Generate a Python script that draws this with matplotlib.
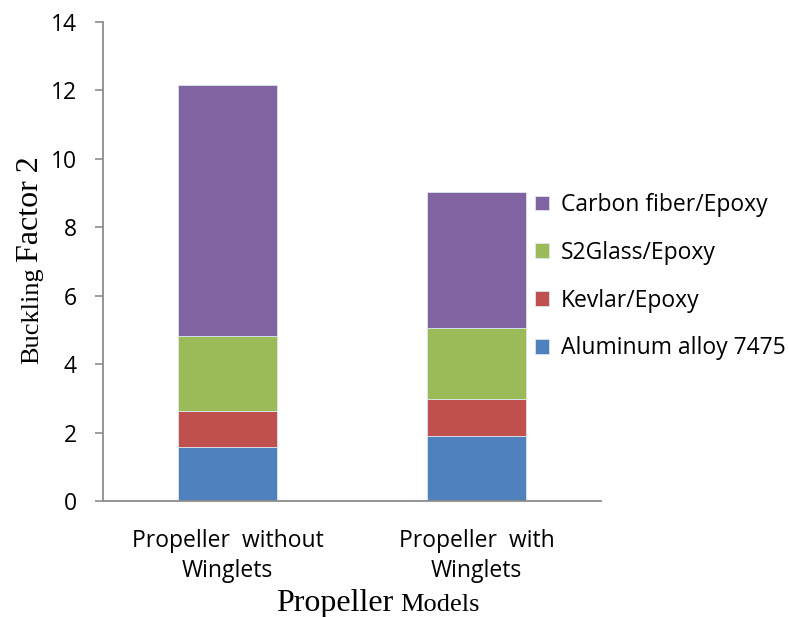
import numpy as np
import matplotlib.pyplot as plt

#Data
models=['Propeller  without\nWinglets','Propeller  with\nWinglets']
materials=['Aluminum alloy 7475','Kevlar/Epoxy','S2Glass/Epoxy','Carbon fiber/Epoxy']
aluminum=[1.57,1.89]
kevlar=[1.05,1.08]
s2glass=[2.19,2.10]
carbon=[7.35,3.97]
colors=['#4F81BD','#C0504D','#9BBB59','#8064A2']

sans='Open Sans'
serif='Liberation Serif'
W,H=789,617

fig=plt.figure(figsize=(7.89,6.17),dpi=100)
ax=fig.add_axes([103/W,1-501/H,498/W,479/H])

x=np.arange(len(models))
bottom=np.zeros(len(models))
for vals,name,c in zip([aluminum,kevlar,s2glass,carbon],materials,colors):
    ax.bar(x,vals,0.4,bottom=bottom,color=c,edgecolor='#dde4ee',linewidth=0.6,label=name)
    bottom+=np.array(vals)

ax.set_xlim(-0.5,1.5)
ax.set_ylim(0,14)
ax.set_yticks(np.arange(0,15,2))
ax.set_xticks(x)
ax.set_xticklabels(models,fontfamily=sans,fontsize=16.5,linespacing=1.33)
for lab in ax.get_yticklabels():
    lab.set_fontfamily(sans)
    lab.set_fontsize(16.5)
ax.tick_params(axis='y',direction='out',length=6,width=1.2,color='#8c8c8c',pad=13)
ax.tick_params(axis='x',length=0,pad=20)
for s in ['top','right']:
    ax.spines[s].set_visible(False)
for s in ['left','bottom']:
    ax.spines[s].set_color('#8c8c8c')
    ax.spines[s].set_linewidth(1.3)

h,l=ax.get_legend_handles_labels()
fig.legend(h[::-1],l[::-1],loc='upper left',bbox_to_anchor=(535/W,1-193/H),frameon=False,
           prop={'family':sans,'size':16.5},handlelength=0.62,handleheight=0.62,handletextpad=0.5,
           labelspacing=1.04,borderpad=0,borderaxespad=0)

#Axis titles with mixed font sizes (placed piece by piece)
t1=fig.text(276/W,1-611/H,'Propeller',fontfamily=serif,fontsize=23,ha='left',va='baseline')
t2=fig.text(38/W,1-364/H,'Buckling',fontfamily=serif,fontsize=19,rotation=90,
            rotation_mode='anchor',ha='left',va='baseline')
fig.canvas.draw()
r=fig.canvas.get_renderer()
e1=t1.get_window_extent(r)
fig.text((e1.x1+7)/W,1-611/H,'Models',fontfamily=serif,fontsize=19,ha='left',va='baseline')
e2=t2.get_window_extent(r)
fig.text(38/W,(e2.y1+5)/H,'Factor 2',fontfamily=serif,fontsize=23,rotation=90,
         rotation_mode='anchor',ha='left',va='baseline')

plt.savefig('out.png')
